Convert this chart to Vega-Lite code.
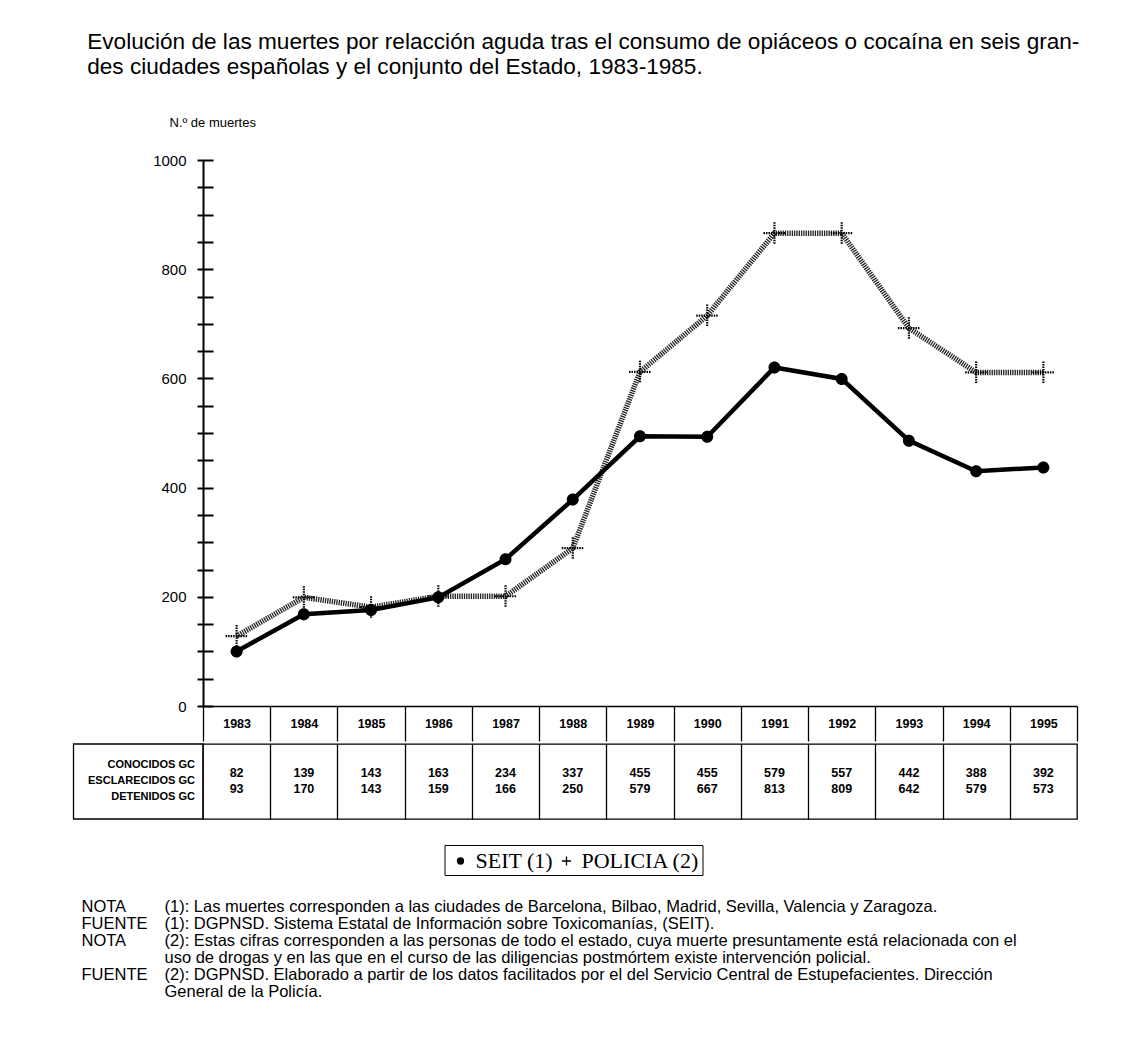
{
  "$schema": "https://vega.github.io/schema/vega-lite/v6.json",
  "background": "white",
  "padding": {"left": 72, "top": 31, "right": 10, "bottom": 10},
  "spacing": 0,
  "title": {
    "text": ["Evolución de las muertes por relacción aguda tras el consumo de opiáceos o cocaína en seis gran-", "des ciudades españolas y el conjunto del Estado, 1983-1985."],
    "anchor": "start",
    "frame": "bounds",
    "dx": 15,
    "offset": 37,
    "font": "Liberation Sans",
    "fontSize": 22.6,
    "fontWeight": "normal",
    "color": "black",
    "lineHeight": 25
  },
  "config": {
    "view": {"stroke": null},
    "font": "Liberation Sans",
    "text": {"color": "black"}
  },
  "datasets": {
    "lineas": [
      {"anio": 1983, "serie": "SEIT (1)", "muertes": 100},
      {"anio": 1984, "serie": "SEIT (1)", "muertes": 168},
      {"anio": 1985, "serie": "SEIT (1)", "muertes": 176},
      {"anio": 1986, "serie": "SEIT (1)", "muertes": 199},
      {"anio": 1987, "serie": "SEIT (1)", "muertes": 269},
      {"anio": 1988, "serie": "SEIT (1)", "muertes": 378},
      {"anio": 1989, "serie": "SEIT (1)", "muertes": 494},
      {"anio": 1990, "serie": "SEIT (1)", "muertes": 493},
      {"anio": 1991, "serie": "SEIT (1)", "muertes": 620},
      {"anio": 1992, "serie": "SEIT (1)", "muertes": 599},
      {"anio": 1993, "serie": "SEIT (1)", "muertes": 486},
      {"anio": 1994, "serie": "SEIT (1)", "muertes": 430},
      {"anio": 1995, "serie": "SEIT (1)", "muertes": 437},
      {"anio": 1983, "serie": "POLICIA (2)", "muertes": 128},
      {"anio": 1984, "serie": "POLICIA (2)", "muertes": 199},
      {"anio": 1985, "serie": "POLICIA (2)", "muertes": 181},
      {"anio": 1986, "serie": "POLICIA (2)", "muertes": 201},
      {"anio": 1987, "serie": "POLICIA (2)", "muertes": 201},
      {"anio": 1988, "serie": "POLICIA (2)", "muertes": 289},
      {"anio": 1989, "serie": "POLICIA (2)", "muertes": 612},
      {"anio": 1990, "serie": "POLICIA (2)", "muertes": 715},
      {"anio": 1991, "serie": "POLICIA (2)", "muertes": 866},
      {"anio": 1992, "serie": "POLICIA (2)", "muertes": 866},
      {"anio": 1993, "serie": "POLICIA (2)", "muertes": 692},
      {"anio": 1994, "serie": "POLICIA (2)", "muertes": 611},
      {"anio": 1995, "serie": "POLICIA (2)", "muertes": 611}
    ],
    "tabla": [
      {"anio": 1983, "fila1": 82, "fila2": 93},
      {"anio": 1984, "fila1": 139, "fila2": 170},
      {"anio": 1985, "fila1": 143, "fila2": 143},
      {"anio": 1986, "fila1": 163, "fila2": 159},
      {"anio": 1987, "fila1": 234, "fila2": 166},
      {"anio": 1988, "fila1": 337, "fila2": 250},
      {"anio": 1989, "fila1": 455, "fila2": 579},
      {"anio": 1990, "fila1": 455, "fila2": 667},
      {"anio": 1991, "fila1": 579, "fila2": 813},
      {"anio": 1992, "fila1": 557, "fila2": 809},
      {"anio": 1993, "fila1": 442, "fila2": 642},
      {"anio": 1994, "fila1": 388, "fila2": 579},
      {"anio": 1995, "fila1": 392, "fila2": 573}
    ],
    "notas": [
      {"linea": 1, "etiqueta": "NOTA", "texto": "(1): Las muertes corresponden a las ciudades de Barcelona, Bilbao, Madrid, Sevilla, Valencia y Zaragoza."},
      {"linea": 2, "etiqueta": "FUENTE", "texto": "(1): DGPNSD. Sistema Estatal de Información sobre Toxicomanías, (SEIT)."},
      {"linea": 3, "etiqueta": "NOTA", "texto": "(2): Estas cifras corresponden a las personas de todo el estado, cuya muerte presuntamente está relacionada con el"},
      {"linea": 4, "etiqueta": "", "texto": "uso de drogas y en las que en el curso de las diligencias postmórtem existe intervención policial."},
      {"linea": 5, "etiqueta": "FUENTE", "texto": "(2): DGPNSD. Elaborado a partir de los datos facilitados por el del Servicio Central de Estupefacientes. Dirección"},
      {"linea": 6, "etiqueta": "", "texto": "General de la Policía."}
    ]
  },
  "vconcat": [
    {
      "width": 874,
      "height": 546,
      "data": {"name": "lineas"},
      "encoding": {
        "x": {
          "field": "anio",
          "type": "ordinal",
          "scale": {"type": "band", "paddingInner": 0, "paddingOuter": 0},
          "axis": {
            "orient": "bottom",
            "title": null,
            "tickBand": "extent",
            "tickSize": 35,
            "tickWidth": 1.3,
            "tickColor": "black",
            "domainColor": "black",
            "domainWidth": 1.6,
            "labelAngle": 0,
            "labelFont": "Liberation Sans",
            "labelFontWeight": "bold",
            "labelFontSize": 12.5,
            "labelColor": "black",
            "labelBaseline": "middle",
            "labelPadding": -17.5,
            "grid": false
          }
        }
      },
      "layer": [
        {
          "transform": [{"filter": "datum.serie === 'POLICIA (2)'"}],
          "mark": {"type": "line", "color": "#222222", "strokeWidth": 5.5, "strokeDash": [1.3, 1]},
          "encoding": {
            "y": {
              "field": "muertes",
              "type": "quantitative",
              "scale": {"domain": [0, 1000], "nice": false},
              "axis": {
                "orient": "left",
                "offset": -10,
                "values": [0,50,100,150,200,250,300,350,400,450,500,550,600,650,700,750,800,850,900,950,1000],
                "tickSize": 10,
                "tickWidth": 2,
                "tickColor": "black",
                "domain": false,
                "labels": false,
                "grid": false,
                "title": null,
                "minExtent": 0,
                "maxExtent": 0
              }
            }
          }
        },
        {
          "transform": [{"filter": "datum.serie === 'SEIT (1)'"}],
          "mark": {"type": "line", "color": "black", "strokeWidth": 4.5},
          "encoding": {
            "y": {
              "field": "muertes",
              "type": "quantitative",
              "scale": {"domain": [0, 1000], "nice": false},
              "axis": {
                "orient": "left",
                "values": [0,50,100,150,200,250,300,350,400,450,500,550,600,650,700,750,800,850,900,950,1000],
                "format": "d",
                "labelExpr": "datum.value % 200 === 0 ? datum.label : ''",
                "tickSize": 6,
                "tickWidth": 2,
                "tickColor": "black",
                "domainColor": "black",
                "domainWidth": 2,
                "labelFont": "Liberation Sans",
                "labelFontSize": 15,
                "labelColor": "black",
                "labelPadding": 11,
                "grid": false,
                "title": "N.º de muertes",
                "titleAngle": 0,
                "titleX": -34,
                "titleY": -38,
                "titleAlign": "left",
                "titleBaseline": "middle",
                "titleFont": "Liberation Sans",
                "titleFontSize": 13,
                "titleFontWeight": "normal",
                "titleColor": "black",
                "minExtent": 129.5,
                "maxExtent": 200
              }
            }
          }
        },
        {
          "transform": [{"filter": "datum.serie === 'POLICIA (2)'"}],
          "mark": {"type": "point", "filled": false, "color": "black", "strokeWidth": 2.2, "strokeDash": [1.5, 1], "size": 3440, "opacity": 1},
          "encoding": {
            "y": {"field": "muertes", "type": "quantitative", "scale": {"domain": [0, 1000], "nice": false}, "axis": null},
            "shape": {
              "field": "serie",
              "type": "nominal",
              "scale": {"domain": ["SEIT (1)", "POLICIA (2)"], "range": ["M-0.25,0A0.25,0.25,0,1,1,0.25,0A0.25,0.25,0,1,1,-0.25,0ZM-0.16,0A0.16,0.16,0,1,1,0.16,0A0.16,0.16,0,1,1,-0.16,0ZM-0.07,0A0.07,0.07,0,1,1,0.07,0A0.07,0.07,0,1,1,-0.07,0Z", "M-0.375,0L0.375,0M0,-0.375L0,0.375"]},
              "legend": {
                "title": null,
                "orient": "none",
                "direction": "horizontal",
                "legendX": 241.5,
                "legendY": 685,
                "labelFont": "Liberation Serif",
                "labelFontSize": 22,
                "labelColor": "black",
                "symbolSize": 576,
                "symbolFillColor": "black",
                "symbolStrokeColor": "black",
                "symbolStrokeWidth": 1.3,
                "labelOffset": 2,
                "columnPadding": 0,
                "padding": 3,
                "strokeColor": "black",
                "fillColor": "white",
                "encode": {
                  "symbols": {"fill": {"value": "black"}, "fillOpacity": {"value": 1}, "stroke": {"value": "black"}, "strokeWidth": {"value": 1.3}, "strokeDash": {"value": []}, "opacity": {"value": 1}},
                  "legend": {"strokeWidth": {"value": 1.5}}
                }
              }
            }
          }
        },
        {
          "transform": [{"filter": "datum.serie === 'SEIT (1)'"}],
          "mark": {"type": "point", "filled": true, "color": "black", "size": 2304, "opacity": 1},
          "encoding": {
            "y": {"field": "muertes", "type": "quantitative", "scale": {"domain": [0, 1000], "nice": false}, "axis": null},
            "shape": {
              "field": "serie",
              "type": "nominal",
              "scale": {"domain": ["SEIT (1)", "POLICIA (2)"], "range": ["M-0.25,0A0.25,0.25,0,1,1,0.25,0A0.25,0.25,0,1,1,-0.25,0ZM-0.16,0A0.16,0.16,0,1,1,0.16,0A0.16,0.16,0,1,1,-0.16,0ZM-0.07,0A0.07,0.07,0,1,1,0.07,0A0.07,0.07,0,1,1,-0.07,0Z", "M-0.375,0L0.375,0M0,-0.375L0,0.375"]}
            }
          }
        }
      ],
      "resolve": {"axis": {"y": "independent"}}
    },
    {
      "width": 874,
      "height": 75,
      "view": {"stroke": "black", "strokeWidth": 1.3},
      "data": {"name": "tabla"},
      "layer": [
        {
          "mark": {"type": "text", "font": "Liberation Sans", "fontWeight": "bold", "fontSize": 12.5, "dy": -9},
          "encoding": {
            "x": {
              "field": "anio",
              "type": "quantitative",
              "scale": {"domain": [1982.5, 1995.5], "nice": false, "zero": false},
              "axis": {
                "values": [1983.5,1984.5,1985.5,1986.5,1987.5,1988.5,1989.5,1990.5,1991.5,1992.5,1993.5,1994.5],
                "grid": true,
                "gridColor": "black",
                "gridWidth": 1.3,
                "gridOpacity": 1,
                "labels": false,
                "ticks": false,
                "domain": false,
                "title": null
              }
            },
            "text": {"field": "fila1"}
          }
        },
        {
          "mark": {"type": "text", "font": "Liberation Sans", "fontWeight": "bold", "fontSize": 12.5, "dy": 7},
          "encoding": {
            "x": {"field": "anio", "type": "quantitative"},
            "text": {"field": "fila2"}
          }
        },
        {
          "data": {"values": [{"cabecera": "CONOCIDOS GC\nESCLARECIDOS GC\nDETENIDOS GC"}]},
          "layer": [
            {
              "mark": {"type": "rect", "fill": null, "fillOpacity": 0, "stroke": "black", "strokeWidth": 1.3},
              "encoding": {
                "x": {"datum": 1980.574, "type": "quantitative"},
                "x2": {"datum": 1982.5}
              }
            },
            {
              "mark": {"type": "text", "align": "right", "baseline": "middle", "lineBreak": "\n", "lineHeight": 16, "font": "Liberation Sans", "fontWeight": "bold", "fontSize": 11, "dx": -8, "dy": -17},
              "encoding": {
                "x": {"datum": 1982.5, "type": "quantitative"},
                "text": {"field": "cabecera"}
              }
            }
          ]
        }
      ]
    },
    {
      "width": 874,
      "height": 172,
      "data": {"name": "notas"},
      "encoding": {
        "y": {"field": "linea", "type": "ordinal", "scale": {"type": "point", "padding": 0, "range": [86, 171]}, "axis": null}
      },
      "layer": [
        {
          "mark": {"type": "text", "align": "left", "baseline": "middle", "font": "Liberation Sans", "fontSize": 16.5},
          "encoding": {
            "x": {"datum": "etiqueta", "type": "nominal", "scale": {"type": "point", "padding": 0, "domain": ["etiqueta", "texto"], "range": [-121.5, -38.5]}, "axis": null},
            "text": {"field": "etiqueta"}
          }
        },
        {
          "mark": {"type": "text", "align": "left", "baseline": "middle", "font": "Liberation Sans", "fontSize": 16.5},
          "encoding": {
            "x": {"datum": "texto", "type": "nominal"},
            "text": {"field": "texto"}
          }
        }
      ]
    }
  ]
}
